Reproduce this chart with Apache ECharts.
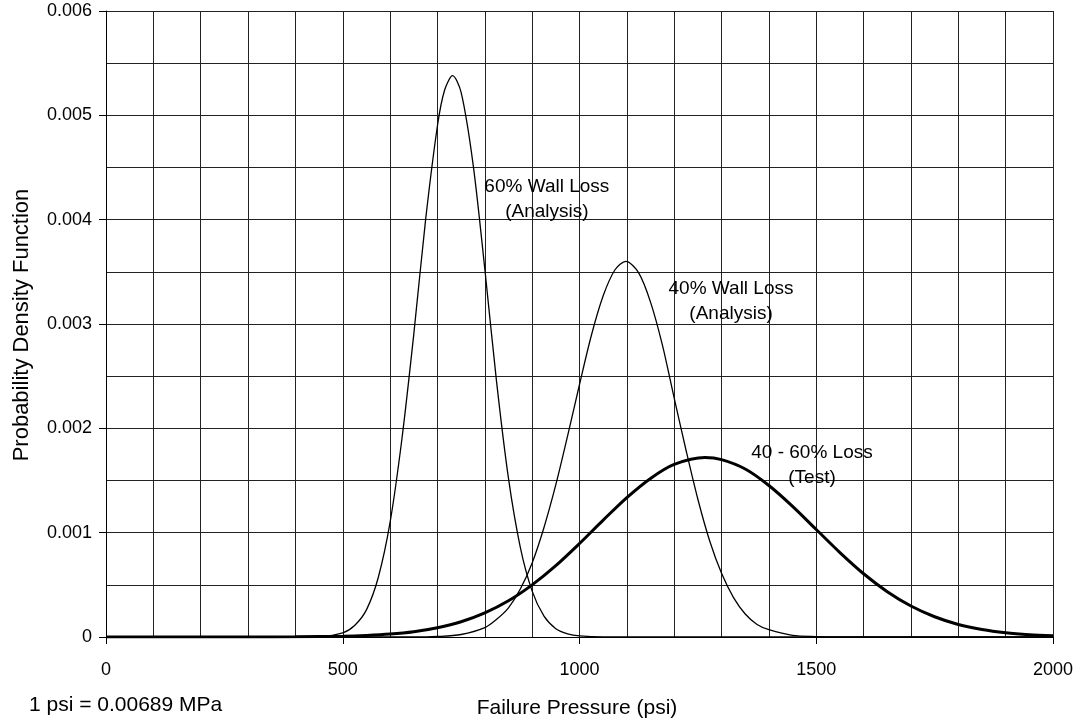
<!DOCTYPE html>
<html>
<head>
<meta charset="utf-8">
<script src="https://cdn.jsdelivr.net/npm/echarts@6/dist/echarts.min.js"></script>
<style>
html,body{margin:0;padding:0;background:#fff;}
#chart{width:1080px;height:725px;}
</style>
</head>
<body>
<div id="chart"></div>
<script>
// 60% Wall Loss (Analysis)
var p60x = [0, 400, 450, 500, 525, 550, 575, 600, 625, 650, 675, 700, 715, 732, 750, 775, 800, 825, 850, 875, 900, 925, 950, 975, 1000, 1050, 2000];
var p60y = [0, 0, 0.000004, 0.00004, 0.00011, 0.00026, 0.00057, 0.0011, 0.0019, 0.0029, 0.0040, 0.0049, 0.00524, 0.00538, 0.00522, 0.00454, 0.00353, 0.00244, 0.00152, 0.00086, 0.00044, 0.0002, 0.00008, 0.00003, 0.00001, 0, 0];
// 40% Wall Loss (Analysis)
var p40x = [0, 650, 700, 750, 800, 825, 850, 875, 900, 925, 950, 975, 1000, 1025, 1050, 1075, 1098, 1125, 1150, 1175, 1200, 1225, 1250, 1275, 1300, 1325, 1350, 1375, 1400, 1450, 1500, 1550, 2000];
var p40y = [0, 0, 0.000005, 0.000024, 0.00009, 0.00017, 0.00028, 0.00046, 0.00071, 0.00105, 0.00146, 0.00193, 0.00242, 0.00289, 0.00327, 0.00352, 0.0036, 0.00349, 0.00321, 0.0028, 0.00229, 0.00179, 0.00132, 0.00092, 0.00061, 0.00038, 0.00022, 0.00012, 0.00007, 0.000015, 0.000004, 0, 0];
// 40 - 60% Loss (Test)
var testx = [0, 300, 400, 500, 550, 600, 650, 700, 750, 800, 850, 900, 950, 1000, 1050, 1100, 1150, 1200, 1265, 1300, 1350, 1400, 1450, 1500, 1550, 1600, 1650, 1700, 1750, 1800, 1850, 1900, 1950, 2000];
var testy = [0, 0, 0.000002, 0.0000075, 0.000015, 0.000028, 0.000051, 0.000089, 0.000146, 0.000231, 0.000347, 0.0005, 0.000684, 0.000896, 0.00112, 0.001336, 0.00152, 0.001654, 0.00172, 0.0017, 0.00161, 0.001452, 0.001252, 0.00103, 0.000809, 0.000606, 0.000434, 0.000297, 0.000194, 0.00012, 0.0000715, 0.0000406, 0.0000222, 0.0000114];

// annotation labels (text, anchor in data coordinates)
var annoText = ['60% Wall Loss\n(Analysis)', '40% Wall Loss\n(Analysis)', '40 - 60% Loss\n(Test)'];
var annoX = [931, 1320, 1491];
var annoY = [0.0042, 0.00322, 0.00165];

var xTitle = 'Failure Pressure (psi)';
var yTitle = 'Probability Density Function';
var noteText = '1 psi = 0.00689 MPa';

function zip(xs, ys) { return xs.map(function (x, i) { return [x, ys[i]]; }); }

var FONT = '"Liberation Sans", Arial, sans-serif';
var chart = echarts.init(document.getElementById('chart'));

function lineSeries(xs, ys, w) {
  return {
    type: 'line', data: zip(xs, ys), showSymbol: false, symbol: 'none',
    smooth: 0.3,
    lineStyle: { color: '#000', width: w }, silent: true
  };
}

chart.setOption({
  animation: false,
  backgroundColor: '#fff',
  grid: { left: 106, right: 27, top: 11, bottom: 88, containLabel: false },
  xAxis: {
    type: 'value', min: 0, max: 2000, interval: 500,
    axisLine: { show: true, onZero: false, lineStyle: { color: '#000', width: 1 } },
    axisTick: { show: true, length: 7, lineStyle: { color: '#000' } },
    axisLabel: { margin: 24, color: '#000', fontSize: 18, fontFamily: FONT,
      formatter: function (v) { return String(v); } },
    splitLine: { show: true, lineStyle: { color: '#222', width: 1 } },
    minorTick: { show: false, splitNumber: 5 },
    minorSplitLine: { show: true, lineStyle: { color: '#222', width: 1 } }
  },
  yAxis: {
    type: 'value', min: 0, max: 0.006, interval: 0.001,
    axisLine: { show: true, lineStyle: { color: '#000', width: 1 } },
    axisTick: { show: true, length: 7, lineStyle: { color: '#000' } },
    axisLabel: { margin: 14, color: '#000', fontSize: 18, fontFamily: FONT,
      formatter: function (v) { return v === 0 ? '0' : v.toFixed(3); } },
    splitLine: { show: true, lineStyle: { color: '#222', width: 1 } },
    minorTick: { show: false, splitNumber: 2 },
    minorSplitLine: { show: true, lineStyle: { color: '#222', width: 1 } }
  },
  series: [
    lineSeries(p60x, p60y, 1.3),
    lineSeries(p40x, p40y, 1.3),
    lineSeries(testx, testy, 3)
  ]
});

var g = [];
for (var i = 0; i < annoText.length; i++) {
  var p = chart.convertToPixel({ gridIndex: 0 }, [annoX[i], annoY[i]]);
  g.push({
    type: 'text', x: p[0], y: p[1], silent: true,
    style: { text: annoText[i], fill: '#000', font: '19px ' + FONT,
      align: 'center', verticalAlign: 'middle', lineHeight: 25 }
  });
}
g.push({ type: 'text', x: 577, y: 708, silent: true,
  style: { text: xTitle, fill: '#000', font: '21px ' + FONT, align: 'center', verticalAlign: 'middle' } });
g.push({ type: 'text', x: 22, y: 325, rotation: Math.PI / 2, silent: true,
  style: { text: yTitle, fill: '#000', font: '22px ' + FONT, align: 'center', verticalAlign: 'middle' } });
g.push({ type: 'text', x: 29, y: 705, silent: true,
  style: { text: noteText, fill: '#000', font: '21px ' + FONT, align: 'left', verticalAlign: 'middle' } });
chart.setOption({ graphic: g });
</script>
</body>
</html>
